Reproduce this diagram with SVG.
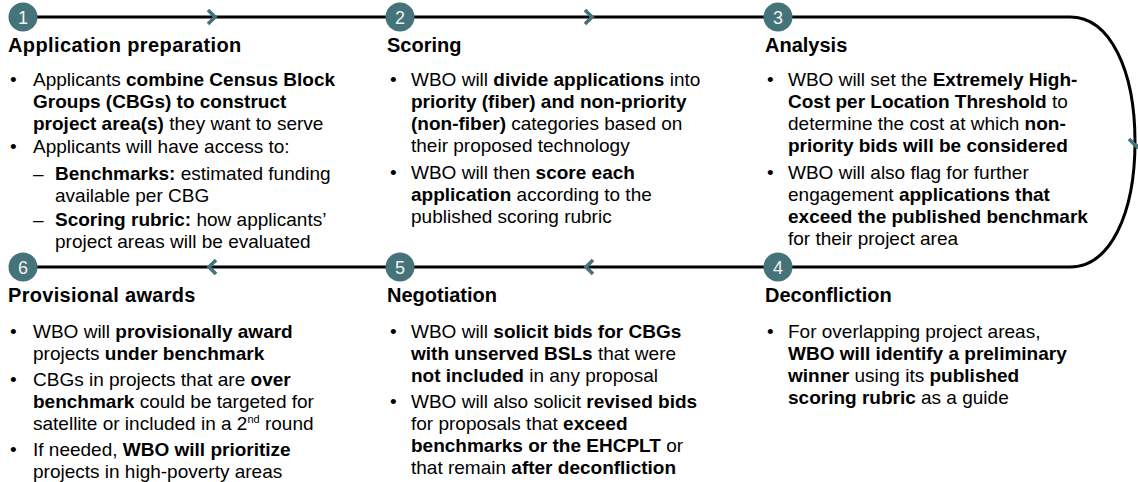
<svg xmlns="http://www.w3.org/2000/svg" width="1138" height="482" viewBox="0 0 1138 482">
<style>
text{font-family:"Liberation Sans",Arial,sans-serif;fill:#000}
.h{font-size:20px;font-weight:bold}
.t{font-size:19px}
.b{font-weight:bold}
.num{font-size:18px;fill:#f2f2f2;text-anchor:middle}
.badge{fill:#45737A}
.line{fill:none;stroke:#000;stroke-width:3}
.chev{fill:none;stroke:#45737A;stroke-width:3.6;stroke-linecap:butt;stroke-linejoin:miter}
</style>
<rect width="1138" height="482" fill="#fff"/>
<g id="connectors">
<path class="line" d="M23 17 L1070 17 C1110 17 1135 70 1135 142 C1135 214 1110 267 1070 267 L23 267"/>
<polyline class="chev" points="208,10 215,17 208,24"/>
<polyline class="chev" points="585,10 592,17 585,24"/>
<polyline class="chev" points="1129,139 1137,147 1145,139"/>
<polyline class="chev" points="593,260 586,267 593,274"/>
<polyline class="chev" points="216,260 209,267 216,274"/>
</g>
<g id="step1">
<circle class="badge" cx="23" cy="17" r="14.5"/>
<text class="num" x="23" y="23.5">1</text>
<text class="h" x="8" y="52" letter-spacing="0.4">Application preparation</text>
<text class="t" x="10" y="86">•</text>
<text class="t" x="33" y="86">Applicants <tspan class="b">combine Census Block</tspan></text>
<text class="t b" x="33" y="108">Groups (CBGs) to construct</text>
<text class="t" x="33" y="130"><tspan class="b">project area(s)</tspan> they want to serve</text>
<text class="t" x="10" y="153">•</text>
<text class="t" x="33" y="153">Applicants will have access to:</text>
<text class="t" x="33" y="180">–</text>
<text class="t" x="55" y="180"><tspan class="b">Benchmarks:</tspan> estimated funding</text>
<text class="t" x="55" y="202">available per CBG</text>
<text class="t" x="33" y="226">–</text>
<text class="t" x="55" y="226"><tspan class="b">Scoring rubric:</tspan> how applicants’</text>
<text class="t" x="55" y="248">project areas will be evaluated</text>
</g>
<g id="step2">
<circle class="badge" cx="400" cy="17" r="14.5"/>
<text class="num" x="400" y="23.5">2</text>
<text class="h" x="387" y="52">Scoring</text>
<text class="t" x="390" y="86">•</text>
<text class="t" x="411" y="86">WBO will <tspan class="b">divide applications</tspan> into</text>
<text class="t b" x="411" y="108">priority (fiber) and non-priority</text>
<text class="t" x="411" y="130"><tspan class="b">(non-fiber)</tspan> categories based on</text>
<text class="t" x="411" y="152">their proposed technology</text>
<text class="t" x="390" y="179">•</text>
<text class="t" x="411" y="179">WBO will then <tspan class="b">score each</tspan></text>
<text class="t" x="411" y="201"><tspan class="b">application</tspan> according to the</text>
<text class="t" x="411" y="223">published scoring rubric</text>
</g>
<g id="step3">
<circle class="badge" cx="778" cy="17" r="14.5"/>
<text class="num" x="778" y="23.5">3</text>
<text class="h" x="765" y="52">Analysis</text>
<text class="t" x="767" y="86">•</text>
<text class="t" x="788" y="86">WBO will set the <tspan class="b">Extremely High-</tspan></text>
<text class="t" x="788" y="108"><tspan class="b">Cost per Location Threshold</tspan> to</text>
<text class="t" x="788" y="130">determine the cost at which <tspan class="b">non-</tspan></text>
<text class="t b" x="788" y="152">priority bids will be considered</text>
<text class="t" x="767" y="179">•</text>
<text class="t" x="788" y="179">WBO will also flag for further</text>
<text class="t" x="788" y="201">engagement <tspan class="b">applications that</tspan></text>
<text class="t b" x="788" y="223">exceed the published benchmark</text>
<text class="t" x="788" y="245">for their project area</text>
</g>
<g id="step4">
<circle class="badge" cx="778" cy="267" r="14.5"/>
<text class="num" x="778" y="273.5">4</text>
<text class="h" x="765" y="302">Deconfliction</text>
<text class="t" x="767" y="338">•</text>
<text class="t" x="788" y="338">For overlapping project areas,</text>
<text class="t b" x="788" y="360">WBO will identify a preliminary</text>
<text class="t" x="788" y="382"><tspan class="b">winner</tspan> using its <tspan class="b">published</tspan></text>
<text class="t" x="788" y="404"><tspan class="b">scoring rubric</tspan> as a guide</text>
</g>
<g id="step5">
<circle class="badge" cx="400" cy="267" r="14.5"/>
<text class="num" x="400" y="273.5">5</text>
<text class="h" x="387" y="302">Negotiation</text>
<text class="t" x="390" y="338">•</text>
<text class="t" x="411" y="338">WBO will <tspan class="b">solicit bids for CBGs</tspan></text>
<text class="t" x="411" y="360"><tspan class="b">with unserved BSLs</tspan> that were</text>
<text class="t" x="411" y="382"><tspan class="b">not included</tspan> in any proposal</text>
<text class="t" x="390" y="408">•</text>
<text class="t" x="411" y="408">WBO will also solicit <tspan class="b">revised bids</tspan></text>
<text class="t" x="411" y="430">for proposals that <tspan class="b">exceed</tspan></text>
<text class="t" x="411" y="452"><tspan class="b">benchmarks or the EHCPLT</tspan> or</text>
<text class="t" x="411" y="474">that remain <tspan class="b">after deconfliction</tspan></text>
</g>
<g id="step6">
<circle class="badge" cx="23" cy="267" r="14.5"/>
<text class="num" x="23" y="273.5">6</text>
<text class="h" x="8" y="302" letter-spacing="0.3">Provisional awards</text>
<text class="t" x="10" y="338">•</text>
<text class="t" x="33" y="338">WBO will <tspan class="b">provisionally award</tspan></text>
<text class="t" x="33" y="360">projects <tspan class="b">under benchmark</tspan></text>
<text class="t" x="10" y="386">•</text>
<text class="t" x="33" y="386">CBGs in projects that are <tspan class="b">over</tspan></text>
<text class="t" x="33" y="408"><tspan class="b">benchmark</tspan> could be targeted for</text>
<text class="t" x="33" y="430">satellite or included in a 2<tspan font-size="11" dy="-7">nd</tspan><tspan dy="7"> round</tspan></text>
<text class="t" x="10" y="456">•</text>
<text class="t" x="33" y="456">If needed, <tspan class="b">WBO will prioritize</tspan></text>
<text class="t" x="33" y="478">projects in high-poverty areas</text>
</g>
</svg>
